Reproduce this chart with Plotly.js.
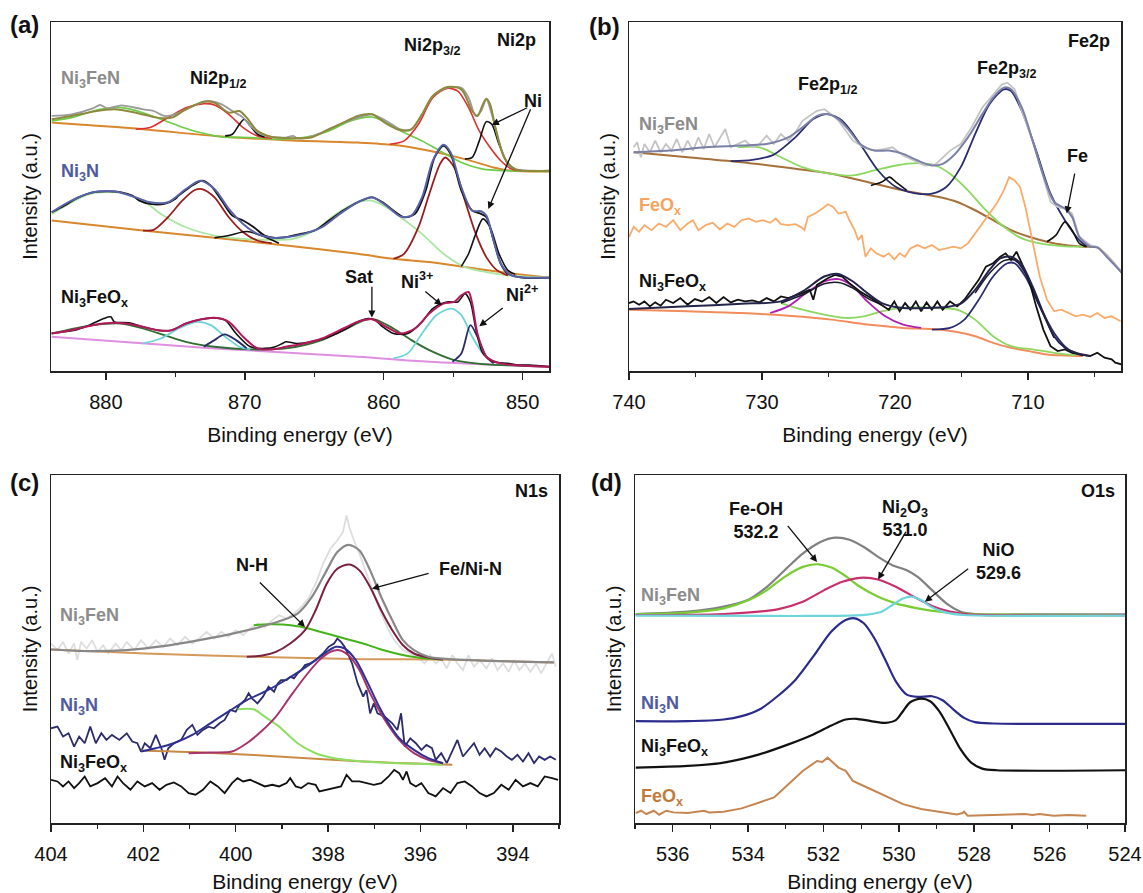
<!DOCTYPE html>
<html><head><meta charset="utf-8">
<script src="https://cdn.plot.ly/plotly-3.0.1.min.js"></script>
<style>html,body{margin:0;padding:0;background:#fff}#chart{width:1143px;height:893px}</style>
</head><body><div id="chart"></div>
<script>
// ---------- Panel (a) Ni2p ----------
const aFeNBaseE=[883.9,877.33,872.18,867.03,861.88,859.3,856.72,854.15,852.09,850.8,848.1];
const aFeNBaseI=[748,728,708,695,688,681,663,638,613,603,601];
const aFeNRawE=[883.9,882.48,880.94,880.42,879.91,878.88,877.33,876.56,875.79,875.01,873.98,872.95,872.44,871.66,870.89,870.12,869.6,868.83,868.06,867.03,866.51,866.25,865.48,864.45,863.16,861.88,860.85,859.81,858.78,858.01,857.24,856.47,855.44,854.41,853.89,853.37,852.99,852.61,852.22,851.57,851.06,850.54,848.1];
const aFeNRawI=[768,773,791,801,791,800,788,783,768,773,793,811,813,803,783,763,738,713,705,703,708,701,703,718,743,763,773,753,728,728,773,828,853,853,823,768,783,818,773,673,623,608,603];
const aFeNFitE=[883.9,882.48,880.94,879.39,877.85,876.3,875.27,874.24,872.95,872.18,871.15,870.38,869.86,869.09,868.06,866.51,865.22,863.94,862.65,861.88,860.85,859.81,858.78,858.01,857.24,856.47,855.44,854.41,853.63,853.25,852.86,852.61,852.34,851.96,851.32,850.54,848.1];
const aFeNFitI=[758,768,781,788,778,763,763,788,811,808,778,783,763,723,705,701,703,728,753,768,773,745,725,728,773,828,855,848,783,768,803,820,803,733,643,608,603];
const aFeNSatE=[883.9,882.48,880.42,878.88,877.33,876.04,874.76,873.21,871.66,869.6,867.54,865.48,863.94,862.39,860.85,859.81,858.53,857.24,855.95,854.41,852.86,851.06,848.1];
const aFeNSatI=[753,763,788,793,778,758,738,718,705,703,698,705,723,753,765,748,718,693,663,628,608,603,601];
const aFeNNi2E=[877.85,876.82,875.53,874.24,872.95,872.18,871.15,870.12,869.09,868.06,null,859.56,858.53,857.5,856.47,855.44,854.66,853.89,853.12,852.34,851.57,850.8,850.03];
const aFeNNi2I=[728,733,763,793,805,801,773,733,708,701,null,683,693,743,823,851,843,793,723,673,633,608,603];
const aFeNNi0E=[871.41,870.89,870.38,870.04,869.6,869.09,868.57,null,854.15,853.63,853.12,852.61,852.22,851.7,851.06,850.54];
const aFeNNi0I=[708,713,743,758,738,713,705,null,638,643,693,751,743,683,623,608];

const aNBaseE=[883.9,877.33,872.18,867.03,861.88,859.3,856.72,854.15,851.57,848.1];
const aNBaseI=[453,423,401,378,353,338,328,313,298,281];
const aNRawE=[883.9,883.0,881.97,880.94,879.91,878.88,878.1,877.59,876.82,875.79,875.01,874.76,873.98,873.08,872.44,871.66,870.89,870.12,869.35,868.57,867.8,867.03,866.0,864.97,863.94,862.91,861.88,860.85,860.07,859.3,858.53,857.75,856.98,856.34,855.7,855.18,854.41,853.63,852.99,852.61,852.09,851.57,851.06,850.03,848.1];
const aNRawI=[478,498,523,538,541,538,528,513,503,503,518,528,553,573,558,513,468,453,433,408,401,403,413,423,453,483,508,523,508,483,463,473,543,643,678,653,543,483,473,463,393,323,293,281,281];
const aNFitE=[883.9,882.48,880.94,879.39,877.85,876.82,875.53,874.24,873.21,872.18,871.15,870.12,869.09,868.06,867.03,865.74,864.45,863.16,861.88,860.85,859.81,858.78,858.01,857.24,856.47,855.7,855.18,854.41,853.63,852.99,852.61,852.09,851.57,850.8,848.1];
const aNFitI=[478,513,538,541,523,508,508,548,573,548,488,443,413,401,403,413,433,473,508,523,498,465,468,523,633,681,658,553,483,481,468,393,323,288,281];
const aNSatE=[883.9,881.2,879.13,877.33,876.04,874.24,872.18,870.12,868.06,866.51,864.97,863.42,861.88,860.85,859.81,858.78,857.24,855.7,854.15,852.61,851.06,848.1];
const aNSatI=[473,533,538,513,473,433,408,398,395,398,423,473,508,513,493,463,413,353,313,298,288,281];
const aNNi2E=[877.33,876.56,875.53,874.5,873.6,873.08,872.18,871.15,870.12,869.09,868.06,null,859.3,858.53,857.5,856.72,855.95,855.57,854.92,854.15,853.37,852.61,851.83,851.06];
const aNNi2I=[423,425,463,513,545,548,523,463,418,393,385,null,338,353,433,533,623,643,613,513,413,343,303,288];
const aNNi0E=[872.18,871.15,869.86,868.83,867.54,null,854.41,853.89,853.37,852.86,852.34,851.7,851.06,850.54];
const aNNi0I=[401,408,420,408,385,null,315,353,413,458,433,353,303,291];

const aOBaseE=[883.9,872.18,861.88,856.72,848.1];
const aOBaseI=[103,68,43,28,13];
const aORawE=[883.9,883.0,882.23,881.2,880.16,879.65,879.39,878.36,877.33,876.3,875.27,874.24,873.21,872.18,871.41,870.63,869.6,868.57,867.8,867.29,867.03,866.25,865.22,863.94,862.65,861.88,861.1,860.59,860.07,859.3,858.27,857.24,856.47,855.44,854.66,854.15,853.76,853.37,852.86,852.09,851.06,850.28,849.51,848.1];
const aORawI=[113,118,123,138,158,163,148,145,133,123,123,143,155,160,153,113,73,68,73,83,88,83,88,103,128,148,158,153,133,113,113,148,188,208,208,233,208,128,53,28,23,18,18,13];
const aOFitE=[883.9,882.48,880.94,879.39,877.85,876.3,875.27,874.24,873.21,872.18,871.15,870.12,869.09,868.06,867.03,865.74,864.45,862.91,861.88,860.85,859.81,858.78,857.75,856.72,855.7,854.92,854.41,853.89,853.63,853.25,852.61,851.57,848.1];
const aOFitI=[113,123,138,145,138,123,123,143,155,160,148,103,68,65,73,83,98,128,148,156,133,113,128,173,203,208,228,238,203,113,43,23,13];
const aOSatE=[883.9,880.94,878.88,877.33,875.79,874.24,872.18,869.6,867.03,864.45,862.65,861.36,860.59,859.3,858.01,856.72,854.92,852.86,848.1];
const aOSatI=[113,138,143,128,108,88,73,65,68,93,128,153,155,128,93,63,33,21,13];
const aONi3E=[877.33,876.04,874.76,873.47,872.44,871.41,870.38,869.6,null,859.3,858.27,857.24,856.21,855.13,854.41,853.63,852.86,852.09];
const aONi3I=[83,98,128,148,138,103,73,65,null,38,53,113,168,188,168,103,53,28];
const aONi2E=[872.95,872.18,871.46,870.63,869.86,null,855.05,854.41,853.76,853.25,852.61,852.09];
const aONi2I=[73,93,110,93,68,null,28,53,138,103,43,23];

// ---------- Panel (b) Fe2p ----------
const bFeNRawE=[739.65,739.38,739.11,738.84,738.43,738.03,737.62,737.22,736.81,736.41,736.0,735.59,735.19,734.78,734.38,733.97,733.57,733.16,732.76,732.35,731.81,731.27,730.73,730.19,729.65,729.11,728.57,728.03,727.49,726.95,726.41,725.86,725.32,724.78,724.24,723.7,723.16,722.35,721.54,720.73,720.19,719.38,718.57,717.76,716.95,716.41,715.86,715.05,714.24,713.43,712.62,711.95,711.54,711.0,710.46,709.65,708.84,708.3,707.76,707.22,706.68,706.14,705.32,704.78,703.97,702.95];
const bFeNRawI=[675,690,645,685,660,695,660,685,665,700,660,695,665,705,670,715,675,705,730,675,685,695,675,685,710,685,715,695,720,755,770,785,790,775,755,725,695,675,665,670,675,650,635,620,623,645,665,685,735,795,835,865,870,850,785,695,585,510,495,490,475,405,380,375,345,300];
const bFeNFitE=[739.65,736.95,734.24,731.54,729.65,728.03,726.95,725.86,725.05,724.24,723.43,722.62,721.54,720.46,719.38,718.3,717.22,716.41,715.59,714.51,713.43,712.62,711.81,711.27,710.46,709.65,708.84,708.03,707.22,706.68,706.14,705.32,704.78,703.97,702.95];
const bFeNFitI=[660,665,675,680,685,705,735,770,775,760,725,685,665,665,655,635,620,625,650,705,775,825,855,850,795,695,590,510,490,465,405,375,373,340,297];
const bFeNBaseE=[739.65,735.59,731.54,727.49,724.78,722.08,719.38,716.68,715.32,713.97,712.62,711.27,709.92,708.57,707.22,705.86,704.78,703.97,702.95];
const bFeNBaseI=[660,645,630,610,595,570,545,525,510,485,455,425,405,390,380,375,373,345,297];
const bFeNSatE=[731.81,730.19,728.57,726.95,724.78,723.16,721.54,719.92,718.3,716.95,715.86,714.51,713.16,711.81,710.46,709.11,707.49,705.86];
const bFeNSatI=[675,675,645,615,595,590,605,620,627,620,595,545,485,435,400,385,377,375];
const bFeNFe3E=[732.35,730.73,729.11,727.49,726.14,725.05,723.97,722.62,721.27,719.92,718.57,717.22,716.14,715.05,713.97,712.89,711.81,711.27,710.46,709.38,708.3,707.22,706.14,705.59];
const bFeNFe3I=[633,637,653,705,760,775,755,685,605,555,537,535,555,615,715,805,850,845,785,665,535,455,395,377];
const bFeNFe0E=[721.81,721.0,720.41,719.92,719.11,null,708.57,707.89,707.22,706.68,706.14,705.59];
const bFeNFe0I=[560,570,585,570,545,null,390,410,450,425,385,375];
const bFeOxE=[740.0,739.65,739.24,738.84,738.3,737.76,737.22,736.68,736.14,735.59,735.19,734.78,734.24,733.7,733.16,732.62,732.08,731.54,731.0,730.46,729.92,729.38,728.97,728.57,728.03,727.49,727.08,726.81,726.54,726.0,725.46,725.05,724.65,724.24,723.7,723.43,723.03,722.76,722.49,722.22,721.81,721.41,720.86,720.46,720.05,719.65,719.24,718.84,718.3,717.76,717.22,716.68,716.14,715.59,715.05,714.51,713.97,713.43,712.89,712.35,711.81,711.41,711.0,710.59,710.19,709.65,709.11,708.57,708.03,707.49,706.95,706.41,705.86,705.32,704.78,704.24,703.7,703.03];
const bFeOxI=[405,435,420,440,425,445,435,455,425,445,455,425,440,447,427,445,435,455,460,450,455,447,460,443,440,443,435,425,465,475,490,503,495,475,480,455,425,395,410,345,370,355,345,355,337,355,345,370,380,370,380,365,370,375,370,385,415,445,475,505,545,585,575,555,495,395,285,215,180,185,175,165,170,163,175,160,165,150];
const bOBaseE=[740,735.59,731.54,727.49,724.78,722.08,719.38,716.68,713.97,712.62,711.27,709.92,708.57,707.22,705.86];
const bOBaseI=[185,180,175,165,155,140,130,125,105,85,70,60,50,47,45];
const bORawE=[740,739.65,739.24,738.84,738.43,738.03,737.62,737.22,736.68,736.14,735.59,735.05,734.51,733.97,733.43,732.89,732.35,731.81,731.27,730.73,730.19,729.65,729.11,728.57,728.03,727.49,726.95,726.41,726.14,725.86,725.05,724.51,723.97,723.43,722.62,721.81,721.0,720.46,720.05,719.65,719.24,718.84,718.43,718.03,717.62,717.22,716.81,716.41,715.86,715.32,714.78,714.24,713.7,713.16,712.62,712.08,711.68,711.27,710.86,710.46,709.92,709.38,708.84,708.3,707.76,707.22,706.68,706.14,705.32,704.78,704.24,703.7,703.43,702.95];
const bORawI=[205,210,200,210,195,207,197,215,205,220,200,217,210,223,205,223,207,215,210,213,207,220,210,225,220,227,235,245,215,260,280,290,285,265,240,220,200,185,210,180,205,185,210,180,207,185,210,185,210,195,215,245,275,315,325,345,355,335,360,325,275,195,125,75,60,65,55,50,45,55,40,35,25,20];
const bOFitE=[740,735.59,731.54,728.57,726.95,725.32,724.24,723.16,722.08,721.0,719.38,717.76,716.14,715.05,713.97,712.89,712.08,711.27,710.46,709.65,708.84,708.03,707.22,706.41,705.32];
const bOFitI=[187,195,203,210,240,285,293,270,235,205,190,190,193,203,245,305,340,345,320,255,175,105,70,55,45];
const bOFit2E=[728.57,726.95,725.32,724.24,723.16,722.08,721.0,null,713.97,712.89,711.81,711.0,710.19,709.11,708.03];
const bOFit2I=[205,230,263,267,250,220,200,null,235,295,333,335,295,195,100];
const bOSatE=[728.57,726.95,725.32,723.7,722.35,721.0,719.65,718.3,716.68,715.32,713.97,712.62,711.27,709.65,708.03,706.41];
const bOSatI=[205,185,170,160,165,180,190,193,190,185,155,105,75,65,55,47];
const bOFe12E=[729.38,728.03,726.68,725.32,724.24,723.16,722.08,720.73,719.38,718.03];
const bOFe12I=[175,195,235,270,277,255,210,165,140,130];
const bOFe32E=[717.22,715.86,714.78,713.7,712.62,711.54,711.0,710.19,709.11,708.03,706.95,705.86];
const bOFe32I=[125,130,155,215,285,325,325,285,195,115,65,47];

// ---------- Panel (c) N1s ----------
const cFeNRawE=[404.0,403.86,403.74,403.62,403.5,403.43,403.35,403.23,403.11,402.99,402.87,402.76,402.6,402.48,402.36,402.2,402.05,401.89,401.73,401.57,401.42,401.26,401.1,400.94,400.79,400.63,400.47,400.31,400.16,400.0,399.84,399.69,399.53,399.37,399.21,399.06,398.9,398.74,398.58,398.43,398.27,398.11,397.95,397.8,397.68,397.6,397.54,397.44,397.32,397.17,397.01,396.85,396.69,396.54,396.38,396.22,396.06,395.91,395.79,395.67,395.55,395.43,395.31,395.2,395.08,394.96,394.84,394.72,394.57,394.45,394.33,394.21,394.09,393.97,393.86,393.74,393.62,393.5,393.39,393.27,393.15,393.07];
const cFeNRawI=[540,520,545,510,540,490,545,525,550,515,535,510,540,520,545,520,550,525,550,530,555,535,560,540,555,575,555,575,560,580,565,585,600,590,610,625,615,630,650,675,720,780,825,850,875,925,890,850,810,750,690,630,580,545,520,510,500,480,505,480,495,465,505,480,460,505,470,490,465,495,460,480,455,490,460,480,455,480,450,480,510,470];
const cFeNFitE=[404,403.15,402.36,401.57,400.79,400.0,399.21,398.66,398.35,398.03,397.8,397.56,397.32,397.09,396.85,396.61,396.38,396.14,395.83,395.28,394.49,393.7,393.11];
const cFeNFitI=[522,517,520,532,550,572,600,630,680,760,815,837,820,760,680,610,550,520,500,492,488,485,483];
const cFeNBaseE=[404,401.97,399.61,397.25,395.67,393.11];
const cFeNBaseI=[522,510,500,493,492,483];
const cFeNNHE=[399.61,399.29,398.98,398.66,398.43,398.03,397.64,397.24,396.85,396.46,396.06,395.51];
const cFeNNHI=[595,598,597,592,585,570,555,540,522,508,498,492];
const cFeNMainE=[399.76,399.45,399.13,398.82,398.5,398.27,398.03,397.8,397.54,397.32,397.09,396.85,396.61,396.38,396.14,395.83,395.51];
const cFeNMainI=[500,503,515,540,580,640,720,765,778,760,710,640,580,535,510,498,492];
const cNRawE=[404,403.86,403.74,403.62,403.5,403.39,403.27,403.15,403.03,402.91,402.8,402.68,402.52,402.36,402.24,402.13,402.05,401.97,401.85,401.73,401.61,401.54,401.46,401.34,401.18,401.06,400.94,400.83,400.71,400.59,400.47,400.35,400.24,400.12,400.0,399.92,399.8,399.72,399.65,399.53,399.41,399.29,399.17,399.09,399.02,398.9,398.82,398.74,398.66,398.58,398.5,398.39,398.27,398.11,397.99,397.87,397.8,397.72,397.64,397.56,397.48,397.36,397.24,397.17,397.09,397.01,396.93,396.77,396.61,396.5,396.42,396.34,396.22,396.1,395.98,395.87,395.75,395.67,395.55,395.43,395.31,395.2,395.08,394.96,394.84,394.72,394.61,394.49,394.37,394.25,394.13,394.02,393.9,393.78,393.66,393.54,393.43,393.31,393.19,393.07];
const cNRawI=[285,290,260,270,230,260,240,290,240,270,250,265,250,270,245,240,215,240,225,265,225,190,225,240,250,280,295,265,280,290,285,300,310,340,335,355,370,390,375,360,380,410,395,420,430,430,440,435,450,460,475,480,490,510,530,540,555,545,530,505,480,420,380,400,330,360,330,320,300,280,330,230,255,240,220,235,225,190,210,180,215,250,200,220,240,205,225,200,225,215,200,190,205,185,210,180,200,190,200,190];
const cNFitE=[402.05,401.73,401.34,400.94,400.55,400.16,399.76,399.37,398.98,398.58,398.27,398.03,397.83,397.64,397.4,397.17,396.93,396.69,396.46,396.14,395.83,395.51];
const cNFitI=[215,225,240,265,300,335,370,395,425,460,490,515,530,525,490,430,360,300,255,220,195,180];
const cNMainE=[401.02,400.55,400.08,399.76,399.45,399.13,398.82,398.5,398.19,397.95,397.76,397.56,397.32,397.09,396.77,396.46,396.14,395.83,395.51];
const cNMainI=[210,212,215,240,275,320,380,440,490,515,520,505,460,390,310,250,210,190,180];
const cNNHE=[399.96,399.61,399.37,399.06,398.66,398.27,397.87,397.48,396.85,396.06,395.51];
const cNNHI=[342,342,320,290,240,210,195,188,182,178,175];
const cNBaseE=[402.05,400.39,398.82,397.24,395.31];
const cNBaseI=[218,210,198,185,175];
const cORawE=[404,403.86,403.74,403.62,403.5,403.39,403.27,403.15,402.99,402.83,402.68,402.56,402.44,402.28,402.13,401.97,401.81,401.65,401.5,401.34,401.18,401.02,400.87,400.71,400.55,400.39,400.24,400.08,399.96,399.84,399.69,399.53,399.37,399.21,399.06,398.9,398.82,398.7,398.58,398.43,398.27,398.19,398.03,397.87,397.72,397.6,397.48,397.32,397.17,397.01,396.85,396.69,396.57,396.46,396.38,396.3,396.22,396.1,395.98,395.83,395.67,395.51,395.35,395.2,395.04,394.88,394.72,394.57,394.41,394.25,394.09,393.94,393.78,393.62,393.46,393.31,393.15,393.02];
const cORawI=[130,125,110,125,105,120,140,110,120,135,110,140,120,100,125,110,120,100,115,122,110,90,85,100,125,110,90,120,135,125,130,120,110,115,110,120,135,110,105,120,115,95,100,105,110,145,125,125,120,115,120,140,160,150,130,155,120,110,120,90,80,105,90,120,125,110,90,80,90,115,100,130,110,120,110,140,135,130];

// ---------- Panel (d) O1s ----------
const dFeNEnvE=[536.98,535.6,534.65,533.98,533.5,533.03,532.55,532.08,531.7,531.31,530.93,530.55,530.17,529.79,529.5,529.12,528.74,528.36,527.98,526.08,524.0];
const dFeNEnvI=[630,637,652,674,712,762,812,847,860,854,832,802,777,762,742,702,662,637,630,629,629];
const dFeOHE=[536.98,535.6,534.65,533.98,533.5,533.03,532.55,532.17,531.79,531.41,531.03,530.55,530.08,529.5,528.93,527.98,524.0];
const dFeOHI=[629,634,647,672,702,742,772,780,770,744,712,682,662,647,637,630,627];
const dNi2O3E=[536.98,534.65,533.22,532.55,531.98,531.5,531.03,530.55,530.08,529.6,529.12,528.65,528.17,524.0];
const dNi2O3I=[627,630,644,667,702,727,739,734,712,682,654,637,629,626];
const dNiOE=[536.98,532.74,531.31,530.84,530.46,530.17,529.89,529.65,529.41,529.12,528.74,528.27,524.0];
const dNiOI=[625,624,625,628,637,657,677,682,672,650,634,627,625];
const dNE=[536.98,535.6,534.65,534.17,533.7,533.22,532.74,532.27,531.79,531.41,531.17,530.93,530.65,530.36,530.08,529.79,529.5,529.12,528.84,528.55,528.27,527.98,527.5,524.0];
const dNI=[307,307,312,322,342,382,432,502,577,612,617,602,557,492,427,387,380,382,370,342,317,304,300,299];
const dOE=[536.98,535.6,534.65,533.7,532.93,532.27,531.79,531.41,531.12,530.74,530.36,530.08,529.89,529.7,529.41,529.17,528.93,528.65,528.36,528.08,527.79,527.41,524.0];
const dOI=[167,172,182,207,237,267,294,312,314,307,302,310,337,364,375,367,337,282,222,182,164,159,159];
const dFeOxE=[536.98,536.84,536.7,536.5,536.36,536.17,535.98,535.6,535.17,535.03,534.65,534.17,533.7,533.31,532.93,532.55,532.17,532.03,531.89,531.79,531.6,531.41,531.22,530.84,530.36,529.89,529.41,528.93,528.46,528.31,528.27,528.17,527.5,526.65,526.46,526.27,525.89,525.5,525.03];
const dFeOxI=[30,37,27,37,25,37,32,30,37,32,34,44,62,77,117,157,187,184,197,187,167,157,127,107,82,57,42,34,26,30,34,22,24,27,24,27,22,24,22];

// ---------- build ----------
const FONT='Arial, "Liberation Sans", "Helvetica Neue", sans-serif';
const traces=[];
function L(x,y,color,width,ax,smooth){
  traces.push({x:x,y:y,mode:'lines',type:'scatter',xaxis:'x'+ax,yaxis:'y'+ax,
    line:{color:color,width:width,shape:smooth?'spline':'linear',smoothing:0.8},
    connectgaps:false,hoverinfo:'skip',showlegend:false});
}
// (a)
L(aFeNBaseE,aFeNBaseI,'#d8872c',2,'',true);
L(aFeNSatE,aFeNSatI,'#6ccc48',1.6,'',true);
L(aFeNNi2E,aFeNNi2I,'#dd3030',1.6,'',true);
L(aFeNNi0E,aFeNNi0I,'#111111',1.6,'',true);
L(aFeNRawE,aFeNRawI,'#9a9a9a',1.8,'',true);
L(aFeNFitE,aFeNFitI,'#8d8a3c',2,'',true);
L(aNBaseE,aNBaseI,'#d8872c',2,'',true);
L(aNSatE,aNSatI,'#a9e6a0',1.8,'',true);
L(aNNi2E,aNNi2I,'#981e1e',1.8,'',true);
L(aNNi0E,aNNi0I,'#111111',1.6,'',true);
L(aNRawE,aNRawI,'#111111',1.8,'',true);
L(aNFitE,aNFitI,'#5862a6',2,'',true);
L(aOBaseE,aOBaseI,'#df8fdf',2,'',true);
L(aOSatE,aOSatI,'#2f6e30',1.8,'',true);
L(aONi3E,aONi3I,'#6dd3da',1.8,'',true);
L(aONi2E,aONi2I,'#2b2b66',1.8,'',true);
L(aORawE,aORawI,'#111111',1.6,'',true);
L(aOFitE,aOFitI,'#b3195a',2,'',true);
// (b)
L(bFeNBaseE,bFeNBaseI,'#a6703a',2,'2',true);
L(bFeNSatE,bFeNSatI,'#8cd860',1.8,'2',true);
L(bFeNFe3E,bFeNFe3I,'#2b2d70',1.8,'2',true);
L(bFeNFe0E,bFeNFe0I,'#111111',1.6,'2',true);
L(bFeNRawE,bFeNRawI,'#c4c4c4',1.8,'2',false);
L(bFeNFitE,bFeNFitI,'#7b80a6',2,'2',true);
L(bFeOxE,bFeOxI,'#f9ab6a',1.8,'2',false);
L(bOBaseE,bOBaseI,'#f28c5c',2,'2',true);
L(bOSatE,bOSatI,'#8cd860',1.8,'2',true);
L(bOFe12E,bOFe12I,'#b020b0',1.8,'2',true);
L(bOFe32E,bOFe32I,'#2b2d70',1.8,'2',true);
L(bOFit2E,bOFit2I,'#1a1a2e',1.6,'2',true);
L(bORawE,bORawI,'#111111',1.8,'2',false);
L(bOFitE,bOFitI,'#24244a',2,'2',true);
// (c)
L(cFeNRawE,cFeNRawI,'#dedede',1.8,'3',false);
L(cFeNBaseE,cFeNBaseI,'#d4995a',2,'3',true);
L(cFeNNHE,cFeNNHI,'#44b41a',2,'3',true);
L(cFeNMainE,cFeNMainI,'#7a2040',2,'3',true);
L(cFeNFitE,cFeNFitI,'#888888',2.2,'3',true);
L(cNRawE,cNRawI,'#2c2c6c',1.8,'3',false);
L(cNBaseE,cNBaseI,'#c98a45',2,'3',true);
L(cNNHE,cNNHI,'#8ede64',2,'3',true);
L(cNMainE,cNMainI,'#a8326a',2,'3',true);
L(cNFitE,cNFitI,'#2e3192',2,'3',true);
L(cORawE,cORawI,'#111111',1.8,'3',false);
// (d)
L(dFeNEnvE,dFeNEnvI,'#808080',2.2,'4',true);
L(dFeOHE,dFeOHI,'#7acc33',2.2,'4',true);
L(dNi2O3E,dNi2O3I,'#c9306b',2.2,'4',true);
L(dNiOE,dNiOI,'#6fd5dc',2.2,'4',true);
L(dNE,dNI,'#2b2b8c',2.2,'4',true);
L(dOE,dOI,'#111111',2.2,'4',true);
L(dFeOxE,dFeOxI,'#c68550',2,'4',false);

function xAxis(dom,rng,dt,mn,anchor){
  return {domain:dom,range:rng,anchor:anchor,showline:true,mirror:true,linecolor:'#222',linewidth:1.5,
    ticks:'outside',ticklen:7,tickwidth:1.5,tickcolor:'#222',tick0:0,dtick:dt,
    minor:{dtick:mn,ticks:'outside',ticklen:4,tickwidth:1.3,tickcolor:'#222',showgrid:false},
    showgrid:false,zeroline:false,automargin:false,ticklabelstandoff:5,
    tickfont:{family:FONT,size:20,color:'#111'},
    title:{text:'Binding energy (eV)',font:{family:FONT,size:21,color:'#111'},standoff:16}};
}
function yAxis(dom,rng,anchor){
  return {domain:dom,range:rng,anchor:anchor,showline:true,mirror:true,linecolor:'#222',linewidth:1.5,
    ticks:'',showticklabels:false,showgrid:false,zeroline:false,automargin:false,
    title:{text:'Intensity (a.u.)',font:{family:FONT,size:20,color:'#111'},standoff:6}};
}
const W=1143,H=893;
const dx=(l,r)=>[l/W,r/W], dy=(t,b)=>[1-b/H,1-t/H];

const ann=[];
function T(ax,x,y,text,opt){
  opt=opt||{};
  ann.push(Object.assign({xref:'x'+ax,yref:'y'+ax,x:x,y:y,text:'<b>'+text+'</b>',showarrow:false,
    font:{family:FONT,size:opt.size||18,color:opt.color||'#111'},xanchor:opt.xa||'center',yanchor:'middle'},opt.extra||{}));
}
function A(ax,hx,hy,tx,ty){
  ann.push({xref:'x'+ax,yref:'y'+ax,axref:'x'+ax,ayref:'y'+ax,x:hx,y:hy,ax:tx,ay:ty,text:'',
    showarrow:true,arrowhead:2,arrowsize:1.1,arrowwidth:1.3,arrowcolor:'#111',standoff:0,startstandoff:0});
}
function P(xp,yp,text){
  ann.push({xref:'paper',yref:'paper',x:xp/W,y:1-yp/H,text:'<b>'+text+'</b>',showarrow:false,
    font:{family:FONT,size:24,color:'#111'},xanchor:'center',yanchor:'middle'});
}
const GRAY='#8c8c8c',BLUE='#4f5aa0';
// (a)
P(24,24,'(a)');
T('',848.9,998,'Ni2p',{xa:'right'});
T('',856.47,978,'Ni2p<sub>3/2</sub>');
T('',871.92,878,'Ni2p<sub>1/2</sub>');
T('',883.4,878,'Ni<sub>3</sub>FeN',{xa:'left',color:GRAY});
T('',883.4,598,'Ni<sub>3</sub>N',{xa:'left',color:BLUE});
T('',883.4,218,'Ni<sub>3</sub>FeO<sub>x</sub>',{xa:'left'});
T('',849.25,813,'Ni');
A('',852.22,741,849.56,795);
A('',852.47,488,849.38,793);
T('',861.75,283,'Sat');
A('',860.85,161,860.85,258);
T('',857.63,273,'Ni<sup>3+</sup>');
A('',855.82,198,857.11,243);
T('',850.03,233,'Ni<sup>2+</sup>');
A('',853.12,135,851.32,193);
// (b)
P(604,27,'(b)');
T('2',703.7,995,'Fe2p',{xa:'right'});
T('2',711.54,910,'Fe2p<sub>3/2</sub>');
T('2',725.05,860,'Fe2p<sub>1/2</sub>');
T('2',739.43,740,'Ni<sub>3</sub>FeN',{xa:'left',color:GRAY});
T('2',739.43,495,'FeO<sub>x</sub>',{xa:'left',color:'#f6a35e'});
T('2',739.43,267,'Ni<sub>3</sub>FeO<sub>x</sub>',{xa:'left'});
T('2',706.27,650,'Fe');
A('2',707.08,475,706.46,600);
// (c)
P(24,482,'(c)');
T('3',393.2,1000,'N1s',{xa:'right'});
T('3',399.65,775,'N-H');
A('3',398.5,590,399.51,728);
T('3',394.92,765,'Fe/Ni-N');
A('3',397.05,705,395.79,752);
T('3',403.84,620,'Ni<sub>3</sub>FeN',{xa:'left',color:GRAY});
T('3',403.84,350,'Ni<sub>3</sub>N',{xa:'left',color:BLUE});
T('3',403.84,180,'Ni<sub>3</sub>FeO<sub>x</sub>',{xa:'left'});
// (d)
P(606,482,'(d)');
T('4',524.2,1002,'O1s',{xa:'right'});
T('4',533.79,913,'Fe-OH<br>532.2');
A('4',532.17,787,532.98,900);
T('4',529.84,918,'Ni<sub>2</sub>O<sub>3</sub><br>531.0');
A('4',530.55,734,529.79,882);
T('4',527.36,787,'NiO<br>529.6');
A('4',529.31,667,528.12,770);
T('4',536.89,682,'Ni<sub>3</sub>FeN',{xa:'left',color:GRAY});
T('4',536.89,357,'Ni<sub>3</sub>N',{xa:'left',color:BLUE});
T('4',536.89,229,'Ni<sub>3</sub>FeO<sub>x</sub>',{xa:'left'});
T('4',536.89,77,'FeO<sub>x</sub>',{xa:'left',color:'#c27a3a'});

const layout={
  width:W,height:H,margin:{l:0,r:0,t:0,b:0},paper_bgcolor:'#fff',plot_bgcolor:'#fff',
  font:{family:FONT,color:'#111'},showlegend:false,
  xaxis:xAxis(dx(51,549),[883.95,848.1],10,5,'y'),
  yaxis:yAxis(dy(22,371),[0,1051],'x'),
  xaxis2:xAxis(dx(629,1121),[740,703],10,5,'y2'),
  yaxis2:yAxis(dy(22,371),[0,1053],'x2'),
  xaxis3:xAxis(dx(51,559),[404,393],2,1,'y3'),
  yaxis3:yAxis(dy(475,823),[0,1047],'x3'),
  xaxis4:xAxis(dx(635,1125),[537,524],2,1,'y4'),
  yaxis4:yAxis(dy(475,823),[0,1049],'x4'),
  annotations:ann
};
Plotly.newPlot('chart',traces,layout,{staticPlot:true,displayModeBar:false});
</script></body></html>
